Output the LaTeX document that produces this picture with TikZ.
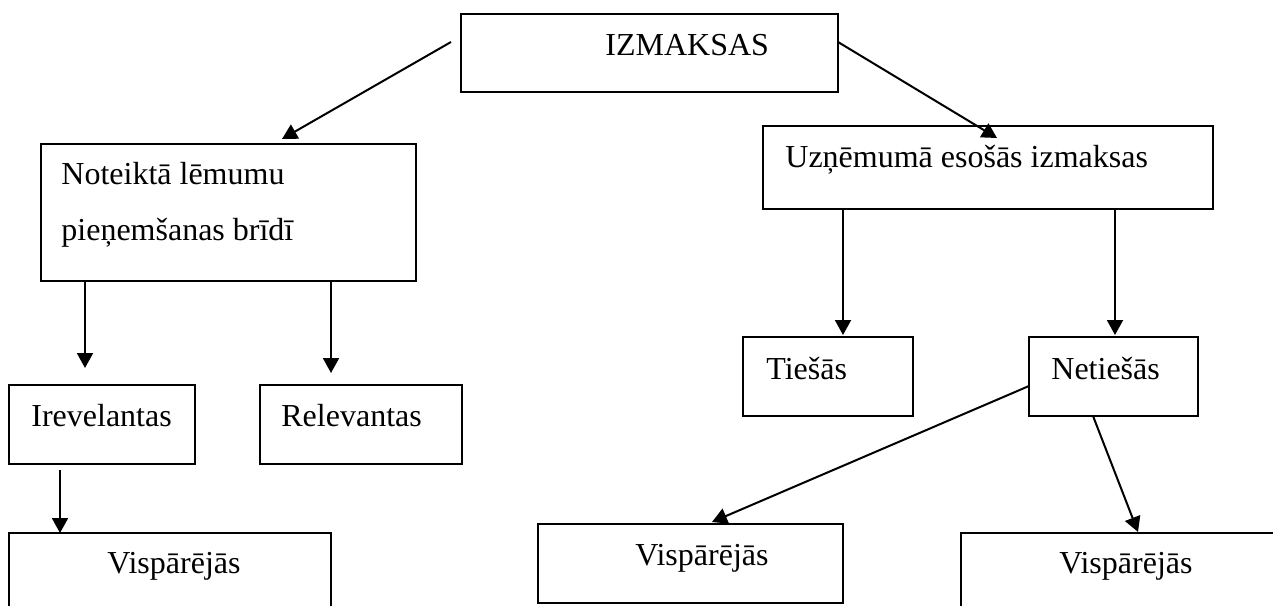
\documentclass[tikz,border=0pt]{standalone}
\usepackage{fontspec}
\setmainfont{Liberation Serif}
\usetikzlibrary{positioning,calc,arrows.meta}

\begin{document}
\begin{tikzpicture}[x=0.5pt,y=-0.5pt,>={Triangle[length=7.5pt,width=8pt]},
    font=\fontsize{16}{19}\selectfont,
    box/.style={draw,line width=0.9pt,anchor=north west,inner sep=0pt,outer sep=0pt},
    txt/.style={anchor=base west,inner sep=0pt},
    arr/.style={->,line width=1pt}]
    \useasboundingbox (0,0) rectangle (1273,605);
    \clip (0,0) rectangle (1273,605);

    \node[box,minimum width=188.5pt,minimum height=39pt]   (top)    at (461,14)  {};
    \node[box,minimum width=187.5pt,minimum height=68.5pt] (note)   at (41,144)  {};
    \node[box,minimum width=225pt,minimum height=41.5pt]   (uzn)    at (763,126) {};
    \node[box,minimum width=93pt,minimum height=39.5pt]    (irev)   at (9,385)   {};
    \node[box,minimum width=101pt,minimum height=39.5pt]   (rel)    at (260,385) {};
    \node[box,minimum width=85pt,minimum height=39.5pt]    (ties)   at (743,337) {};
    \node[box,minimum width=84.5pt,minimum height=39.5pt]  (neties) at (1029,337) {};
    \node[box,minimum width=161pt,minimum height=45pt]     (visA)   at (9,533)   {};% runs off the bottom
    \node[box,minimum width=152.5pt,minimum height=39.5pt] (visB)   at (538,524) {};
    \node[box,minimum width=165pt,minimum height=45pt]     (visC)   at (961,533) {};% runs off the right

    \node[txt] (topT)    at (605,55)  {IZMAKSAS};
    \node[txt] (noteT)   at (61,184)  {Noteiktā lēmumu};
    \node[txt] (noteU)   at (61,240)  {pieņemšanas brīdī};
    \node[txt] (uznT)    at (785,167) {Uzņēmumā esošās izmaksas};
    \node[txt] (irevT)   at (31,426)  {Irevelantas};
    \node[txt] (relT)    at (281,426) {Relevantas};
    \node[txt] (tiesT)   at (766,379) {Tiešās};
    \node[txt] (netiesT) at (1051,379) {Netiešās};
    \node[txt] (visAT)   at (107,573) {Vispārējās};
    \node[txt] (visBT)   at (635,565) {Vispārējās};
    \node[txt] (visCT)   at (1059,573) {Vispārējās};

    \draw [arr] ($(top.north west)+(-10,28)$) -- ($(note.north west)+(241,-5)$);
    \draw [arr] ($(top.north east)+(0,28)$) -- ($(uzn.north west)+(234,12)$);
    \draw [arr] ($(note.south west)+(44,0)$) -- ($(irev.north west)+(76,-17)$);
    \draw [arr] ($(note.south west)+(290,0)$) -- ($(rel.north west)+(71,-12)$);
    \draw [arr] ($(irev.south west)+(51,6)$) -- ($(visA.north west)+(51,0)$);
    \draw [arr] ($(uzn.south west)+(80,0)$) -- ($(ties.north west)+(100,-2)$);
    \draw [arr] ($(uzn.south west)+(352,0)$) -- ($(neties.north west)+(86,-2)$);
    \draw [arr] ($(neties.north west)+(0,49)$) -- ($(visB.north west)+(174,-2)$);
    \draw [arr] ($(neties.south west)+(64,0)$) -- ($(visC.north west)+(177,-1)$);
\end{tikzpicture}
\end{document}
